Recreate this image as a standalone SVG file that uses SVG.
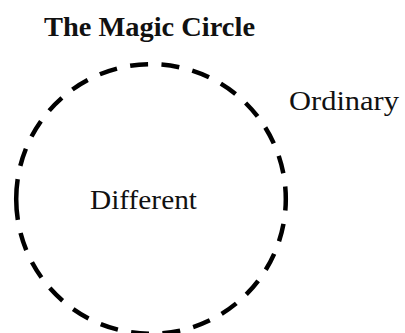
<svg xmlns="http://www.w3.org/2000/svg" width="405" height="333" viewBox="0 0 405 333">
<style>
.lbl{font-family:"Liberation Serif","Times New Roman",serif;fill:#111;}
.title{font-weight:bold;}
.ring{fill:none;stroke:#000;stroke-width:4.5;stroke-linecap:butt;}
</style>
<rect width="405" height="333" fill="#fff"/>
<text class="lbl title" x="44" y="35.5" font-size="27" textLength="211" lengthAdjust="spacingAndGlyphs">The Magic Circle</text>
<g id="magic-circle">
<path class="ring" d="M 16.2 199 A 134.8 134.8 0 0 1 285.8 199 A 134.8 134.8 0 0 1 16.2 199 Z" stroke-dasharray="20 13.45 18 13.45 18 13.45 18 13.45 18 13.45 18 13.45 18 13.45 18 13.45 18 13.45 18 13.45 18 13.45 18 13.45 18 13.45 24 13.45 18 13.45 18 13.45 18 13.45 18 13.45 18 13.45 18 13.45 18 13.45 18 13.45 18 13.45 18 13.45 18 13.45 18 13.45 30 0"/>
<text class="lbl" x="90" y="208.5" font-size="27" textLength="107" lengthAdjust="spacingAndGlyphs">Different</text>
</g>
<g id="ordinary">
<text class="lbl" x="289" y="110" font-size="27" textLength="110" lengthAdjust="spacingAndGlyphs">Ordinary</text>
</g>
</svg>
